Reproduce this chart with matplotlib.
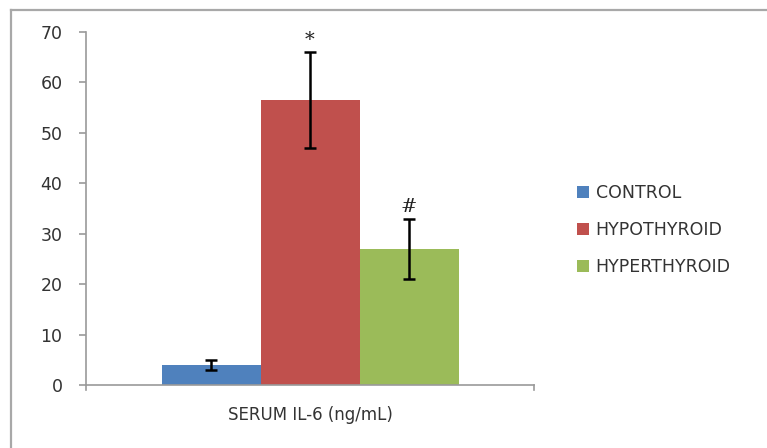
import numpy as np
import matplotlib
matplotlib.use('Agg')
import matplotlib.pyplot as plt
from matplotlib.lines import Line2D

groups = ['CONTROL', 'HYPOTHYROID', 'HYPERTHYROID']
media = [4.0, 56.5, 27.0]
error = [1.0, 9.5, 6.0]
marcas = ['', '*', '#']
colores = ['#4F81BD', '#C0504D', '#9BBB59']
categoria = 'SERUM IL-6 (ng/mL)'

plt.rcParams['font.family'] = ['DejaVu Sans']

fig = plt.figure(figsize=(7.67, 4.48), dpi=100)
ax = fig.add_axes([86/767, 63/448, 448/767, 353/448])

ancho = 99/448
pos = (np.arange(len(groups)) - 1) * ancho
for i in range(len(groups)):
    ax.bar(pos[i], media[i], width=ancho, color=colores[i], label=groups[i], zorder=2)
    ax.errorbar(pos[i], media[i], yerr=error[i], fmt='none', ecolor='black',
                elinewidth=1.8, capsize=4, capthick=1.8, zorder=3)
    if marcas[i]:
        ax.text(pos[i], media[i] + error[i] + 0.6, marcas[i], ha='center', va='bottom',
                fontsize=14, family='DejaVu Serif', style='italic', color='#222222')

ax.set_xlim(-0.5, 0.5)
ax.set_ylim(0, 70)
ax.set_yticks(range(0, 71, 10))
ax.set_xticks([])
ax.text(0, -0.06, categoria, transform=ax.get_xaxis_transform(), ha='center', va='top',
        fontsize=12, color='#333333')

for lado in ['top', 'right']:
    ax.spines[lado].set_visible(False)
for lado in ['left', 'bottom']:
    ax.spines[lado].set_color('#9a9a9a')
    ax.spines[lado].set_linewidth(1.2)
ax.tick_params(axis='y', length=5, width=1.2, color='#9a9a9a', labelsize=12.5,
               labelcolor='#333333', pad=12)
# pequeñas marcas en los extremos del eje x
for xx in [-0.5, 0.5]:
    ax.plot([xx, xx], [0, -1.0], color='#9a9a9a', lw=1.2, clip_on=False)

leg = fig.legend(loc='center left', bbox_to_anchor=(561/767, 1 - 230/448), frameon=False,
                 fontsize=12.5, handlelength=0.7, handleheight=0.7, handletextpad=0.4,
                 labelspacing=1.1)
for t in leg.get_texts():
    t.set_color('#333333')

# borde del gráfico
fig.add_artist(Line2D([11/767, 11/767], [0, 1 - 10/448], color='#a8a8a8', lw=1.6))
fig.add_artist(Line2D([11/767, 1], [1 - 10/448, 1 - 10/448], color='#a8a8a8', lw=1.6))

fig.savefig('out.png', dpi=100)
